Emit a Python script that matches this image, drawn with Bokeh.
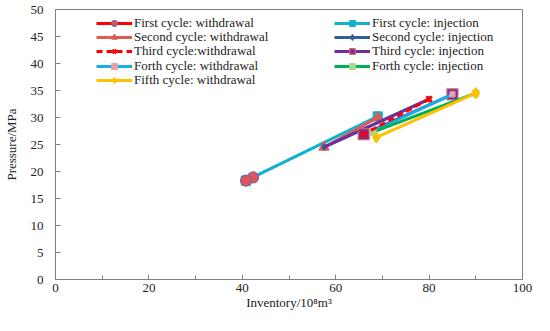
from bokeh.plotting import figure
from bokeh.models import Legend, LegendItem, FixedTicker, Range1d
from bokeh.embed import file_html
from bokeh.resources import INLINE

# ---- data (inventory 10^8 m3, pressure MPa) ----
wd1_x = [42.3, 40.8]; wd1_y = [18.9, 18.3]
inj1_x = [40.8, 69.0]; inj1_y = [18.3, 30.2]
wd2_x = [69.0, 57.5]; wd2_y = [30.0, 24.5]
inj2_x = [57.5, 80.0]; inj2_y = [24.5, 33.4]
wd3_x = [80.0, 66.0]; wd3_y = [33.4, 26.9]
inj3_x = [66.0, 85.0]; inj3_y = [26.9, 34.3]
wd4_x = [85.0, 68.0]; wd4_y = [34.3, 27.5]
inj4_x = [68.0, 90.0]; inj4_y = [27.3, 34.5]
wd5_x = [90.0, 68.7]; wd5_y = [34.5, 26.3]

labels_wd = ["First cycle: withdrawal", "Second cycle: withdrawal", "Third cycle:withdrawal",
             "Forth cycle: withdrawal", "Fifth cycle: withdrawal"]
labels_inj = ["First cycle: injection", "Second cycle: injection", "Third cycle: injection",
              "Forth cycle: injection"]

FONT = "Liberation Serif"
BL, BT, BR, BB = 54, 9, 12, 36
W, H = 534, 315
FRAME_H = H - BT - BB

p = figure(width=W, height=H, output_backend="svg", toolbar_location=None,
           x_range=Range1d(0, 100), y_range=Range1d(0, 50),
           min_border_left=BL, min_border_top=BT, min_border_right=BR, min_border_bottom=BB)
p.xgrid.visible = False
p.ygrid.visible = False
p.outline_line_color = "#808080"
p.outline_line_width = 1

for ax in (p.xaxis[0], p.yaxis[0]):
    ax.axis_line_color = "#808080"
    ax.major_tick_line_color = "#808080"
    ax.minor_tick_line_color = "#808080"
    ax.major_tick_in = 5
    ax.major_tick_out = 0
    ax.minor_tick_in = 4
    ax.minor_tick_out = 0
    ax.major_label_text_font = FONT
    ax.major_label_text_font_size = "13px"
    ax.major_label_text_color = "#222222"
    ax.axis_label_text_font = FONT
    ax.axis_label_text_font_size = "13px"
    ax.axis_label_text_font_style = "normal"
    ax.axis_label_text_color = "#222222"

p.xaxis.ticker = FixedTicker(ticks=[0, 20, 40, 60, 80, 100], minor_ticks=[10, 30, 50, 70, 90])
p.yaxis.ticker = FixedTicker(ticks=list(range(0, 51, 5)), minor_ticks=[])
p.yaxis.minor_tick_line_color = None
p.xaxis.axis_label = "Inventory/10⁸m³"
p.yaxis.axis_label = "Pressure/MPa"
p.xaxis.major_label_standoff = 4
p.yaxis.major_label_standoff = 12
p.xaxis.axis_label_standoff = 0
p.yaxis.axis_label_standoff = 9


def series(xs, ys, color, marker, mfill, medge, size, dash="solid", width=3):
    lr = p.line(xs, ys, line_color=color, line_width=width, line_dash=dash)
    sr = p.scatter(xs, ys, marker=marker, size=size, fill_color=mfill,
                   line_color=medge, line_width=1.2 if marker != "x" else 2.5)
    return [lr, sr]


r_inj1 = series(inj1_x, inj1_y, "#12B2CF", "square", "#12B2CF", "#12B2CF", 9)
r_wd1 = series(wd1_x, wd1_y, "#FF0000", "circle", "#E05555", "#8064A2", 11)
r_wd2 = series(wd2_x, wd2_y, "#E05A50", "triangle", "#E05A50", "#E05A50", 10)
# second injection: dark blue series, overdrawn by a purple line as in the source image
r_inj2 = series(inj2_x, inj2_y, "#2F5F9F", "diamond", "#2F5F9F", "#2F5F9F", 6)
p.line(inj2_x, inj2_y, line_color="#7030A0", line_width=3)
r_inj3 = series(inj3_x, inj3_y, "#7030A0", "square", "#7030A0", "#E06666", 11)
r_wd4 = series(wd4_x, wd4_y, "#14B0E8", "square", "#E8A0A8", "#E8A0A8", 5)
r_inj4 = series(inj4_x, inj4_y, "#00B050", "square", "#A8D890", "#A8D890", 6)
r_wd5 = series(wd5_x, wd5_y, "#FFC000", "diamond", "#FFC000", "#FFC000", 11)
r_wd3 = series(wd3_x, wd3_y, "#FF0000", "x", "#FF0000", "#FF0000", 8, dash="6 4")

ITEM_H = 14
row_centers = [24.0, 38.2, 52.4, 66.6, 80.8]  # from figure top


def add_item(label, renderers, x, row):
    y = FRAME_H - (row_centers[row] - BT) - ITEM_H / 2
    lg = Legend(items=[LegendItem(label=label, renderers=renderers)], location=(x, y),
                padding=0, margin=0, spacing=0, glyph_width=36, glyph_height=ITEM_H,
                label_height=ITEM_H, label_standoff=2,
                label_text_font=FONT, label_text_font_size="13px", label_text_color="#222222",
                background_fill_alpha=0, border_line_color=None)
    p.add_layout(lg, "center")


wd_r = [r_wd1, r_wd2, r_wd3, r_wd4, r_wd5]
inj_r = [r_inj1, r_inj2, r_inj3, r_inj4]
for i, (lab, rr) in enumerate(zip(labels_wd, wd_r)):
    add_item(lab, rr, 41, i)
for i, (lab, rr) in enumerate(zip(labels_inj, inj_r)):
    add_item(lab, rr, 279, i)

open("out.html", "w").write(file_html(p, INLINE))
